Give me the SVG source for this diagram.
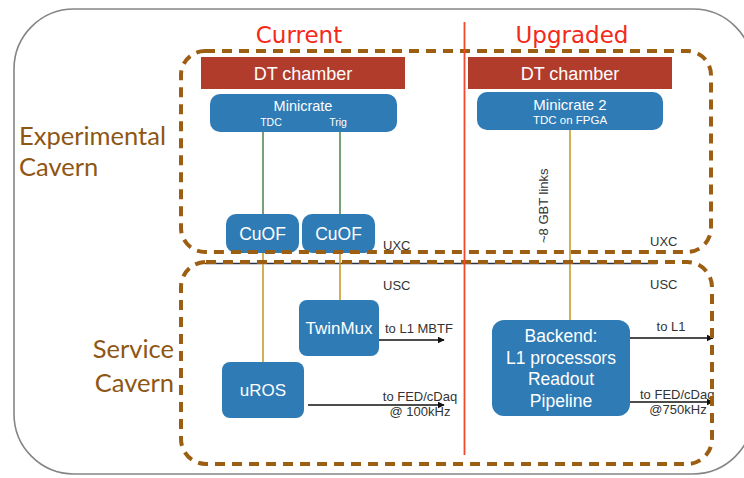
<svg xmlns="http://www.w3.org/2000/svg" width="744" height="478" viewBox="0 0 744 478">
  <defs>
    <marker id="arrow" viewBox="0 0 10 10" refX="9" refY="5" markerWidth="7" markerHeight="7" markerUnits="userSpaceOnUse" orient="auto">
      <path d="M0,0 L10,5 L0,10 Z" fill="#111"/>
    </marker>
    <style>
      .frame { fill: #fff; stroke: #858585; stroke-width: 1.6; }
      .zone { fill: none; stroke: #9c5e12; stroke-width: 4; stroke-dasharray: 10 7; }
      .cavern { font-family: Lato, "Open Sans", sans-serif; font-size: 25.5px; fill: #8e5714; }
      .era { font-family: "DejaVu Sans", sans-serif; font-size: 23px; fill: #f5281a; text-anchor: middle; }
      .chamber { fill: #b23c2c; }
      .box { fill: #2e7bb5; }
      .wt { font-family: "Liberation Sans", Arial, sans-serif; fill: #fff; text-anchor: middle; }
      .lbl { font-family: "Liberation Sans", Arial, sans-serif; font-size: 13px; fill: #333; }
      .green { stroke: #3d7a3d; stroke-width: 1.4; fill: none; }
      .gold { stroke: #c99b2e; stroke-width: 1.6; fill: none; }
      .out { stroke: #111; stroke-width: 1.4; fill: none; marker-end: url(#arrow); }
    </style>
  </defs>

  <!-- outer frame -->
  <rect class="frame" x="14" y="9" width="739" height="465" rx="60"/>

  <!-- cavern labels -->
  <text class="cavern" x="19" y="145">Experimental</text>
  <text class="cavern" x="19" y="176">Cavern</text>
  <text class="cavern" x="174" y="358" text-anchor="end">Service</text>
  <text class="cavern" x="174" y="392" text-anchor="end">Cavern</text>

  <!-- column headings -->
  <text class="era" x="299" y="43">Current</text>
  <text class="era" x="572" y="43">Upgraded</text>

  <!-- connectors -->
  <g id="connectors">
    <line x1="205" y1="263.5" x2="657" y2="263.5" stroke="#2b3548" stroke-width="1.5"/>
    <line class="green" x1="263" y1="132" x2="263" y2="214"/>
    <line class="green" x1="340" y1="132" x2="340" y2="214"/>
    <line class="gold" x1="263" y1="252" x2="263" y2="362"/>
    <line class="gold" x1="340" y1="252" x2="340" y2="300"/>
    <line class="gold" x1="570" y1="130" x2="570" y2="320"/>
    <line class="out" x1="379" y1="340" x2="444" y2="340"/>
    <line class="out" x1="308" y1="405" x2="444" y2="405"/>
    <line class="out" x1="630" y1="338" x2="713" y2="338"/>
    <line class="out" x1="630" y1="402" x2="713" y2="402"/>
    <text class="lbl" x="385" y="333">to L1 MBTF</text>
    <text class="lbl" x="420" y="401" text-anchor="middle">to FED/cDaq</text>
    <text class="lbl" x="420" y="416" text-anchor="middle">@ 100kHz</text>
    <text class="lbl" x="671" y="331" text-anchor="middle">to L1</text>
    <text class="lbl" x="640" y="399">to FED/cDaq</text>
    <text class="lbl" x="678" y="414" text-anchor="middle">@750kHz</text>
    <text class="lbl" transform="translate(548,243) rotate(-90)">~8 GBT links</text>
  </g>

  <!-- current chain -->
  <g id="dt-current">
    <rect class="chamber" x="201" y="57" width="204" height="32"/>
    <text class="wt" x="303" y="80" font-size="18">DT chamber</text>
  </g>
  <g id="minicrate">
    <rect class="box" x="210" y="94" width="187" height="38" rx="10"/>
    <text class="wt" x="303" y="111" font-size="14.5">Minicrate</text>
    <text class="wt" x="271" y="126" font-size="10.5">TDC</text>
    <text class="wt" x="338" y="126" font-size="10.5">Trig</text>
  </g>
  <g id="cuof-tdc">
    <rect class="box" x="226" y="214" width="73" height="39" rx="10"/>
    <text class="wt" x="262.5" y="240" font-size="17.5">CuOF</text>
  </g>
  <g id="cuof-trig">
    <rect class="box" x="302" y="214" width="73" height="39" rx="10"/>
    <text class="wt" x="338.5" y="240" font-size="17.5">CuOF</text>
  </g>
  <g id="twinmux">
    <rect class="box" x="299" y="300" width="80" height="56" rx="8"/>
    <text class="wt" x="339" y="334" font-size="17">TwinMux</text>
  </g>
  <g id="uros">
    <rect class="box" x="222" y="362" width="82" height="56" rx="8"/>
    <text class="wt" x="263" y="396" font-size="17">uROS</text>
  </g>

  <!-- upgraded chain -->
  <g id="dt-upgraded">
    <rect class="chamber" x="468" y="57" width="204" height="32"/>
    <text class="wt" x="570" y="80" font-size="18">DT chamber</text>
  </g>
  <g id="minicrate2">
    <rect class="box" x="477" y="92" width="186" height="38" rx="10"/>
    <text class="wt" x="570" y="110" font-size="15">Minicrate 2</text>
    <text class="wt" x="570" y="124" font-size="11.5">TDC on FPGA</text>
  </g>
  <g id="backend">
    <rect class="box" x="492" y="320" width="138" height="96" rx="12"/>
    <text class="wt" x="561" y="342" font-size="17.5">Backend:</text>
    <text class="wt" x="561" y="364" font-size="17.5">L1 processors</text>
    <text class="wt" x="561" y="385" font-size="17.5">Readout</text>
    <text class="wt" x="561" y="407" font-size="17.5">Pipeline</text>
  </g>

  <!-- area labels -->
  <text class="lbl" x="383" y="250">UXC</text>
  <text class="lbl" x="383" y="290">USC</text>
  <text class="lbl" x="650" y="246">UXC</text>
  <text class="lbl" x="650" y="289">USC</text>

  <!-- cavern zones -->
  <rect class="zone" x="181" y="51" width="530" height="201" rx="24"/>
  <rect class="zone" x="181" y="262" width="531" height="202" rx="25"/>

  <!-- divider between current and upgraded -->
  <line x1="464.5" y1="22" x2="464.5" y2="455" stroke="#f2492c" stroke-width="1.8"/>
</svg>
